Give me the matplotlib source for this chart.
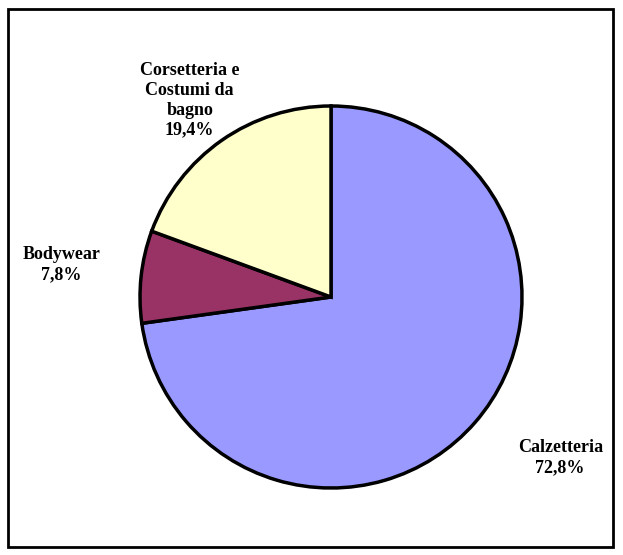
import matplotlib.pyplot as plt
from matplotlib.patches import Rectangle

labels = ["Calzetteria", "Bodywear", "Corsetteria e\nCostumi da\nbagno"]
values = [72.8, 7.8, 19.4]
colors = ["#9999FF", "#993366", "#FFFFCC"]
label_pos = [(1.20, -0.84), (-1.41, 0.17), (-0.74, 1.03)]

fig = plt.figure(figsize=(6.23, 5.55), dpi=100)
fig.patches.append(Rectangle((8 / 623, 8 / 555), 605 / 623, 538 / 555,
                             transform=fig.transFigure, fill=False,
                             edgecolor="black", linewidth=2))

ax = fig.add_axes([140 / 623, 67 / 555, 382 / 623, 382 / 555])
ax.pie(values, colors=colors, startangle=90, counterclock=False,
       wedgeprops={"edgecolor": "black", "linewidth": 2.5})
ax.set_xlim(-1, 1)
ax.set_ylim(-1, 1)
ax.set_aspect("equal")
ax.axis("off")

for lab, v, (x, y) in zip(labels, values, label_pos):
    txt = lab + "\n" + f"{v:.1f}".replace(".", ",") + "%"
    ax.text(x, y, txt, ha="center", va="center", fontsize=13,
            fontweight="bold", family="Liberation Serif", linespacing=1.2,
            clip_on=False)

fig.savefig("out.png", dpi=100)
